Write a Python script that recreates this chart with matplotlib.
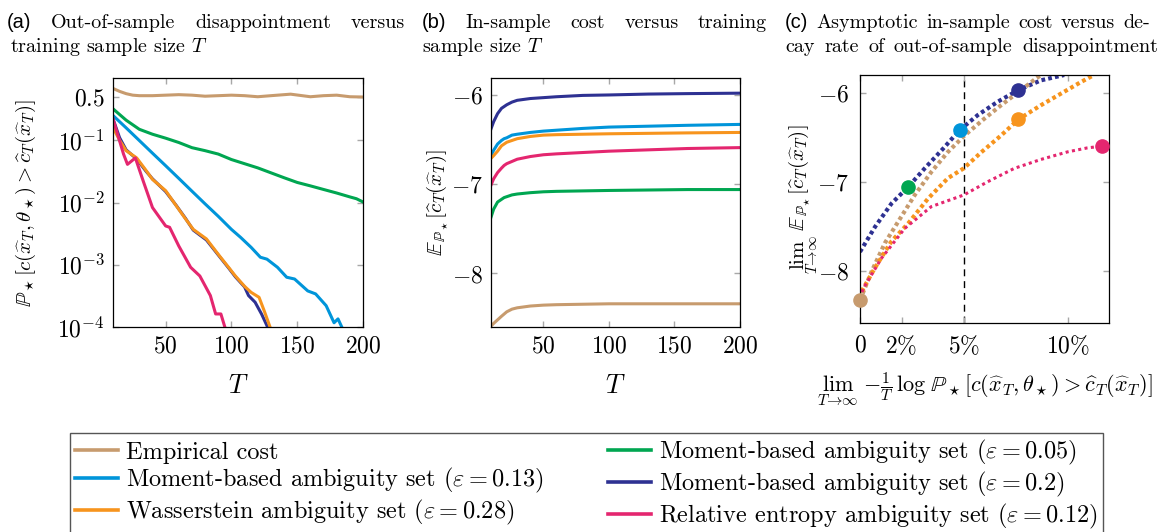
import matplotlib
matplotlib.use("Agg")
import matplotlib.pyplot as plt
from matplotlib.ticker import FixedLocator, FixedFormatter, NullLocator

plt.rcParams['font.family'] = ['cmr10', 'DejaVu Serif']
plt.rcParams['mathtext.fontset'] = 'cm'
plt.rcParams['axes.unicode_minus'] = False

# colours
c_emp = '#C79B6E'
c_m05 = '#00A651'
c_m13 = '#0095DA'
c_m20 = '#2E3192'
c_was = '#F7941D'
c_re = '#E4266F'

labels = ['Empirical cost',
          r'Moment-based ambiguity set ($\varepsilon = 0.13$)',
          r'Wasserstein ambiguity set ($\varepsilon = 0.28$)',
          r'Moment-based ambiguity set ($\varepsilon = 0.05$)',
          r'Moment-based ambiguity set ($\varepsilon = 0.2$)',
          r'Relative entropy ambiguity set ($\varepsilon = 0.12$)']

# ---- (a) out-of-sample disappointment vs T
a_T_emp = [10, 15, 20, 25, 30, 40, 50, 60, 70, 80, 90, 100, 110, 120, 130, 145, 160, 170, 180, 190, 200]
a_P_emp = [0.68, 0.61, 0.56, 0.53, 0.52, 0.52, 0.53, 0.54, 0.53, 0.51, 0.52, 0.53, 0.52, 0.50, 0.52, 0.55,
           0.50, 0.52, 0.53, 0.50, 0.495]
a_T_m05 = [10, 20, 30, 40, 50, 60, 70, 80, 90, 100, 110, 120, 130, 140, 150, 160, 170, 180, 190, 195, 200]
a_P_m05 = [0.32, 0.21, 0.15, 0.125, 0.108, 0.092, 0.076, 0.068, 0.060, 0.049, 0.042, 0.036, 0.030, 0.025,
           0.021, 0.0185, 0.0162, 0.0142, 0.0123, 0.0115, 0.0102]
a_T_m13 = [10, 20, 30, 40, 50, 60, 70, 80, 90, 100, 107, 115, 122, 127, 135, 142, 148, 158, 164, 172, 178,
           181, 186]
a_P_m13 = [0.25, 0.158, 0.099, 0.062, 0.039, 0.0244, 0.0152, 0.0095, 0.0060, 0.0037, 0.00275, 0.0019,
           0.00132, 0.00123, 0.00091, 0.00063, 0.00059, 0.00038, 0.00034, 0.00022, 0.000117, 0.000135, 0.00008]
a_T_m20 = [10, 15, 20, 28, 35, 40, 50, 58, 65, 71, 81, 91, 98, 103, 110, 113, 118, 123, 127, 130]
a_P_m20 = [0.22, 0.11, 0.070, 0.050, 0.032, 0.024, 0.0150, 0.0090, 0.0056, 0.0036, 0.0025, 0.00135, 0.00088,
           0.00064, 0.00044, 0.00032, 0.00025, 0.00016, 0.000105, 0.00007]
a_T_was = [10, 15, 20, 28, 35, 40, 50, 58, 65, 71, 81, 91, 98, 103, 110, 115, 121, 125, 131]
a_P_was = [0.16, 0.10, 0.068, 0.052, 0.033, 0.0235, 0.0155, 0.0089, 0.0055, 0.0037, 0.0026, 0.00138, 0.00090,
           0.00066, 0.00045, 0.00036, 0.00030, 0.00018, 0.00008]
a_T_re = [10, 18, 21, 27, 33, 40, 50, 53, 60, 69, 76, 84, 88, 92, 95, 98]
a_P_re = [0.22, 0.060, 0.041, 0.052, 0.022, 0.0083, 0.0042, 0.0040, 0.0020, 0.00091, 0.00066, 0.00032,
          0.000162, 0.000162, 0.0001, 0.00007]

# ---- (b) in-sample cost vs T
b_T = [10, 12, 15, 18, 20, 22, 26, 30, 40, 50, 60, 80, 100, 130, 160, 200]
b_emp = [-8.59, -8.56, -8.52, -8.48, -8.455, -8.43, -8.40, -8.385, -8.365, -8.355, -8.35, -8.345, -8.34,
         -8.34, -8.34, -8.34]
b_m05 = [-7.37, -7.28, -7.20, -7.17, -7.15, -7.14, -7.12, -7.11, -7.095, -7.085, -7.08, -7.075, -7.07,
         -7.065, -7.06, -7.06]
b_m13 = [-6.68, -6.62, -6.55, -6.51, -6.49, -6.48, -6.45, -6.44, -6.42, -6.405, -6.395, -6.375, -6.36,
         -6.35, -6.34, -6.33]
b_m20 = [-6.38, -6.30, -6.21, -6.15, -6.13, -6.11, -6.08, -6.06, -6.04, -6.03, -6.02, -6.005, -6.0,
         -5.99, -5.985, -5.98]
b_was = [-6.71, -6.68, -6.63, -6.57, -6.55, -6.53, -6.51, -6.49, -6.465, -6.45, -6.445, -6.44, -6.435,
         -6.43, -6.425, -6.42]
b_re = [-7.01, -6.94, -6.87, -6.82, -6.79, -6.77, -6.745, -6.72, -6.69, -6.67, -6.66, -6.645, -6.63,
        -6.615, -6.60, -6.59]

# ---- (c) asymptotic cost vs decay rate (x in %)
c_x_m20 = [0, 0.72, 1.52, 2.32, 3.12, 4.0, 4.8, 5.68, 6.64, 7.63, 8.72, 9.84]
c_y_m20 = [-7.79, -7.51, -7.245, -7.06, -6.85, -6.63, -6.42, -6.25, -6.10, -5.97, -5.86, -5.80]
c_x_emp = [0, 0.16, 0.56, 1.2, 1.84, 2.64, 3.44, 4.24, 5.04, 6.0, 6.8, 7.76, 8.48, 8.72]
c_y_emp = [-8.33, -8.24, -8.01, -7.69, -7.45, -7.15, -6.89, -6.665, -6.48, -6.29, -6.14, -5.97, -5.84, -5.80]
c_x_was = [0, 0.16, 0.72, 1.52, 2.32, 3.28, 4.24, 5.0, 5.84, 6.8, 7.63, 8.72, 9.68, 10.64, 11.28]
c_y_was = [-8.31, -8.20, -7.97, -7.67, -7.47, -7.19, -6.96, -6.85, -6.67, -6.48, -6.30, -6.14, -6.01, -5.88,
           -5.80]
c_x_re = [0, 0.16, 1.04, 2.16, 3.44, 5.0, 6.16, 7.44, 8.72, 10.0, 10.96, 11.68]
c_y_re = [-8.31, -8.20, -7.86, -7.525, -7.28, -7.15, -7.0, -6.85, -6.75, -6.665, -6.62, -6.60]
pt_x = [0, 2.32, 4.8, 7.63, 7.63, 11.68]
pt_y = [-8.33, -7.06, -6.42, -5.97, -6.30, -6.60]
pt_c = [c_emp, c_m05, c_m13, c_m20, c_was, c_re]

W, H = 1165, 532
fig = plt.figure(figsize=(W / 100, H / 100), dpi=100)


def box(l, t, r, b):
    return [l / W, 1 - b / H, (r - l) / W, (b - t) / H]


def style(ax):
    ax.tick_params(which='both', direction='in', top=True, right=True, length=4.5, width=1.0,
                   color='#a8a8a8', labelsize=17, pad=6)
    for s in ax.spines.values():
        s.set_linewidth(0.9)


lw = 2.2
ax_a = fig.add_axes(box(113, 78, 363, 327))
h_emp, = ax_a.plot(a_T_emp, a_P_emp, color=c_emp, lw=lw)
h_m05, = ax_a.plot(a_T_m05, a_P_m05, color=c_m05, lw=lw)
h_m13, = ax_a.plot(a_T_m13, a_P_m13, color=c_m13, lw=lw)
h_m20, = ax_a.plot(a_T_m20, a_P_m20, color=c_m20, lw=lw)
h_was, = ax_a.plot(a_T_was, a_P_was, color=c_was, lw=lw)
h_re, = ax_a.plot(a_T_re, a_P_re, color=c_re, lw=lw)
ax_a.set_yscale('log')
ax_a.set_xlim(10, 200)
ax_a.set_ylim(1e-4, 1)
ax_a.yaxis.set_major_locator(FixedLocator([1e-4, 1e-3, 1e-2, 1e-1, 0.5]))
ax_a.yaxis.set_major_formatter(FixedFormatter(['$10^{-4}$', '$10^{-3}$', '$10^{-2}$', '$10^{-1}$', '$0.5$']))
ax_a.yaxis.set_minor_locator(NullLocator())
ax_a.set_ylabel(r'$\mathbb{P}_\star[c(\widehat{x}_T,\theta_\star) > \widehat{c}_T(\widehat{x}_T)]$', fontsize=15)
ax_a.yaxis.set_label_coords(-0.30, 0.5)

ax_b = fig.add_axes(box(491, 78, 740, 327))
for ys, col in [(b_emp, c_emp), (b_m05, c_m05), (b_m13, c_m13), (b_m20, c_m20), (b_was, c_was), (b_re, c_re)]:
    ax_b.plot(b_T, ys, color=col, lw=lw)
ax_b.set_xlim(10, 200)
ax_b.set_ylim(-8.6, -5.81)
ax_b.yaxis.set_major_locator(FixedLocator([-8, -7, -6]))
ax_b.yaxis.set_major_formatter(FixedFormatter(['$-8$', '$-7$', '$-6$']))
ax_b.set_ylabel(r'$\mathbb{E}_{\mathbb{P}_\star}[\widehat{c}_T(\widehat{x}_T)]$', fontsize=15)
ax_b.yaxis.set_label_coords(-0.165, 0.5)

for ax in (ax_a, ax_b):
    ax.xaxis.set_major_locator(FixedLocator([50, 100, 150, 200]))
    ax.xaxis.set_major_formatter(FixedFormatter(['$50$', '$100$', '$150$', '$200$']))
    ax.set_xlabel('$T$', fontsize=19)
    ax.xaxis.set_label_coords(0.5, -0.19)
    style(ax)

ax_c = fig.add_axes(box(860, 75, 1109, 323))
ax_c.axvline(5, color='black', lw=1.0, ls=(0, (5, 3.5)), zorder=1)
dots = (0, (0.9, 0.75))
ax_c.plot(c_x_m20, c_y_m20, color=c_m20, lw=3.0, ls=dots)
ax_c.plot(c_x_emp, c_y_emp, color=c_emp, lw=3.0, ls=dots)
ax_c.plot(c_x_was, c_y_was, color=c_was, lw=3.0, ls=dots)
ax_c.plot(c_x_re, c_y_re, color=c_re, lw=2.2, ls=(0, (1, 1.1)))
for x, y, col in zip(pt_x, pt_y, pt_c):
    ax_c.plot([x], [y], 'o', ms=9.5, color=col, mec=col, clip_on=False, zorder=5)
ax_c.set_xlim(0, 12)
ax_c.set_ylim(-8.59, -5.8)
ax_c.xaxis.set_major_locator(FixedLocator([0, 2, 5, 10]))
ax_c.xaxis.set_major_formatter(FixedFormatter(['$0$', r'$2\%$', r'$5\%$', r'$10\%$']))
ax_c.yaxis.set_major_locator(FixedLocator([-8, -7, -6]))
ax_c.yaxis.set_major_formatter(FixedFormatter(['$-8$', '$-7$', '$-6$']))
ax_c.set_ylabel(r'$\lim_{T\to\infty}\ \mathbb{E}_{\mathbb{P}_\star}[\widehat{c}_T(\widehat{x}_T)]$', fontsize=15)
ax_c.yaxis.set_label_coords(-0.16, 0.5)
ax_c.set_xlabel(r'$\lim_{T\to\infty}\ -\frac{1}{T}\,\log\,\mathbb{P}_\star[c(\widehat{x}_T,\theta_\star) > '
                r'\widehat{c}_T(\widehat{x}_T)]$', fontsize=16)
ax_c.xaxis.set_label_coords(0.5, -0.19)
style(ax_c)
ax_c.tick_params(pad=8)

# legend
leg = fig.legend([h_emp, h_m13, h_was, h_m05, h_m20, h_re], labels, ncol=2, loc='upper left',
                 bbox_to_anchor=(70 / W, 0, 1033 / W, 1 - 433 / H), mode='expand', fontsize=17.5,
                 frameon=True, fancybox=False, edgecolor='#555555', framealpha=1,
                 handlelength=1.75, handletextpad=0.33, labelspacing=0.1, borderpad=0.22,
                 borderaxespad=0)
leg.get_frame().set_linewidth(1.0)
for ln in leg.get_lines():
    ln.set_linewidth(2.6)

# panel titles (justified lines)
renderer = fig.canvas.get_renderer()


def put_line(words, x0, x1, y, size=14.5, first_sans=True):
    texts = []
    for i, w in enumerate(words):
        fam = ['Liberation Sans'] if (i == 0 and first_sans) else ['cmr10', 'DejaVu Serif']
        texts.append(fig.text(x0 / W, 1 - y / H, w, fontsize=size, family=fam, va='baseline'))
    if x1 is None:
        return
    widths = [t.get_window_extent(renderer).width for t in texts]
    gap = (x1 - x0 - sum(widths)) / (len(words) - 1)
    x = x0
    for t, w in zip(texts, widths):
        t.set_x(x / W)
        x += w + gap


put_line(['(a)', 'Out-of-sample', 'disappointment', 'versus'], 7, 405, 28)
put_line(['training sample size $T$'], 10, None, 52, first_sans=False)
put_line(['(b)', 'In-sample', 'cost', 'versus', 'training'], 422, 767, 28)
put_line(['sample size $T$'], 422, None, 52, first_sans=False)
put_line(['(c)', 'Asymptotic', 'in-sample', 'cost', 'versus', 'de-'], 785, 1150, 28)
put_line(['cay', 'rate', 'of', 'out-of-sample', 'disappointment'], 785, 1158, 52, first_sans=False)

fig.savefig('out.png', dpi=100)
